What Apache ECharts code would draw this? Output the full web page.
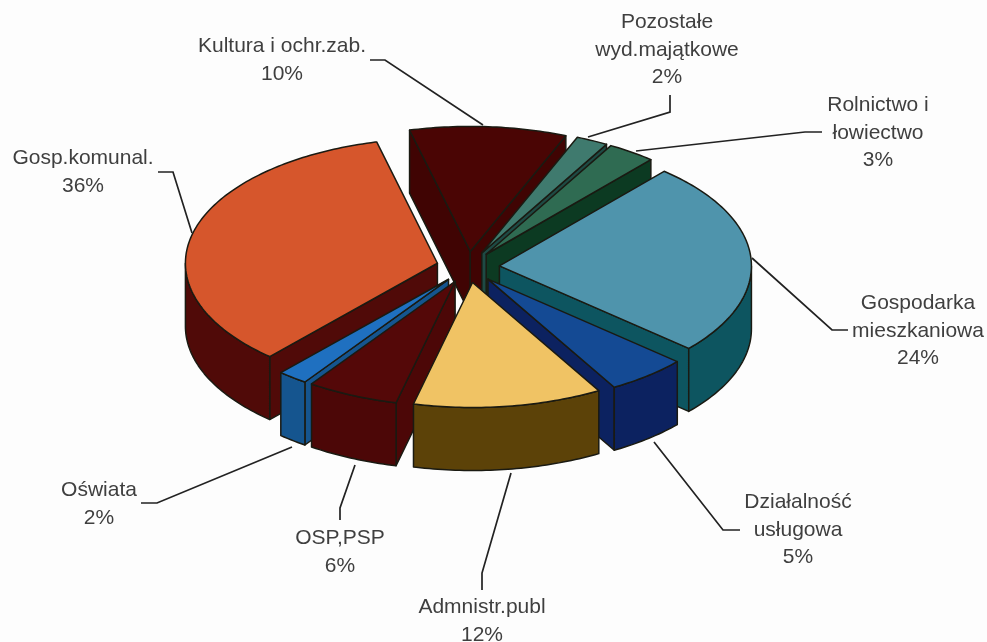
<!DOCTYPE html>
<html>
<head>
<meta charset="utf-8">
<style>
  html, body { margin: 0; padding: 0; background: #fdfdfd; }
  #chart { width: 987px; height: 642px; }
</style>
<script src="https://cdn.jsdelivr.net/npm/echarts@6/dist/echarts.min.js"></script>
</head>
<body>
<div id="chart"></div>
<script>
// dane, zgodnie z ruchem wskazówek zegara
const categories = ['Kultura i ochr.zab.', 'Pozostałe\nwyd.majątkowe', 'Rolnictwo i\nłowiectwo',
  'Gospodarka\nmieszkaniowa', 'Działalność\nusługowa', 'Admnistr.publ', 'OSP,PSP', 'Oświata', 'Gosp.komunal.'];
const values = [10, 2, 3, 24, 5, 12, 6, 2, 36];
const topColors = ['#4a0504', '#3f7a6e', '#2f6b52', '#4f94ac', '#144a94', '#f0c364', '#540808', '#1f70c0', '#d6562c'];
const wallColors = ['#400403', '#1e4a44', '#0c3a22', '#0d5560', '#0c2260', '#5c4208', '#4c0707', '#15558f', '#500a08'];

// układ rzutu
const cx = 468, cy = 267, ra = 252, rb = 125, depth = 63, explode = 0.125, startDeg = -11;
// lekka perspektywa: tył zwęża się, przód rozszerza
const warpDeg = 3;

// podpisy: środek tekstu i linia odniesienia
const labelPos = [[282, 60], [667, 50], [878, 133], [918, 331], [798, 530], [482, 621], [340, 552], [99, 504], [83, 172]];
const leaders = [
  [[370, 60], [385, 60], [483, 125]],
  [[670, 95], [670, 112], [588, 137]],
  [[822, 132], [805, 132], [636, 151]],
  [[752, 258], [832, 330], [848, 330]],
  [[654, 442], [723, 530], [740, 530]],
  [[511, 473], [482, 573], [482, 590]],
  [[355, 465], [340, 508], [340, 520]],
  [[292, 447], [157, 503], [141, 503]],
  [[192, 233], [173, 172], [158, 172]]
];

const total = values.reduce((a, b) => a + b, 0);
const rad = d => d * Math.PI / 180;
const warp = t => t - warpDeg * Math.cos(rad(t));

// kąty wycinków, malowane od tyłu do przodu
let acc = startDeg;
const slices = values.map((v, i) => {
  const from = acc;
  acc += v / total * 360;
  return [from, acc, i];
}).sort((a, b) => Math.cos(rad((b[0] + b[1]) / 2)) - Math.cos(rad((a[0] + a[1]) / 2)));

function renderSlice(params, api) {
  const from = warp(api.value(0)), to = warp(api.value(1)), idx = api.value(2);
  const mid = rad((from + to) / 2);
  const ox = cx + Math.sin(mid) * explode * ra;
  const oy = cy - Math.cos(mid) * explode * rb;
  const rim = t => [ox + ra * Math.sin(rad(t)), oy - rb * Math.cos(rad(t))];
  const down = p => [p[0], p[1] + depth];
  const arc = (a, b) => {
    const pts = [];
    for (let t = a; t < b; t += 1) pts.push(rim(t));
    pts.push(rim(b));
    return pts;
  };
  const stroke = '#1a1a12';
  const poly = (points, fill) => ({
    type: 'polygon',
    shape: { points },
    style: { fill, stroke, lineWidth: 1.5, lineJoin: 'round' }
  });
  const children = [];
  const apex = [ox, oy];
  // sciany radialne widoczne tylko gdy zwrocone do widza
  if (Math.sin(rad(from)) < 0) {
    children.push(poly([apex, rim(from), down(rim(from)), down(apex)], wallColors[idx]));
  }
  if (Math.sin(rad(to)) > 0) {
    children.push(poly([apex, rim(to), down(rim(to)), down(apex)], wallColors[idx]));
  }
  // zewnetrzna sciana luku
  const a = Math.max(from, 90), b = Math.min(to, 270);
  if (a < b) {
    const front = arc(a, b);
    children.push(poly(front.concat(front.map(down).reverse()), wallColors[idx]));
  }
  children.push(poly([apex].concat(arc(from, to)), topColors[idx]));
  return { type: 'group', children };
}

const labelFont = '21px "Liberation Sans", Arial, sans-serif';
const graphics = [];
categories.forEach((name, i) => {
  graphics.push({
    type: 'polyline',
    shape: { points: leaders[i] },
    style: { fill: null, stroke: '#222', lineWidth: 1.7 }
  });
  graphics.push({
    type: 'text',
    x: labelPos[i][0],
    y: labelPos[i][1],
    style: {
      text: name + '\n' + values[i] + '%',
      font: labelFont,
      fill: '#3f3f3f',
      align: 'center',
      verticalAlign: 'middle',
      lineHeight: 27.7
    }
  });
});

const chart = echarts.init(document.getElementById('chart'));
chart.setOption({
  animation: false,
  backgroundColor: '#fdfdfd',
  graphic: graphics,
  series: [{
    type: 'custom',
    coordinateSystem: 'none',
    renderItem: renderSlice,
    data: slices,
    silent: true,
    z: 1
  }]
});
</script>
</body>
</html>
